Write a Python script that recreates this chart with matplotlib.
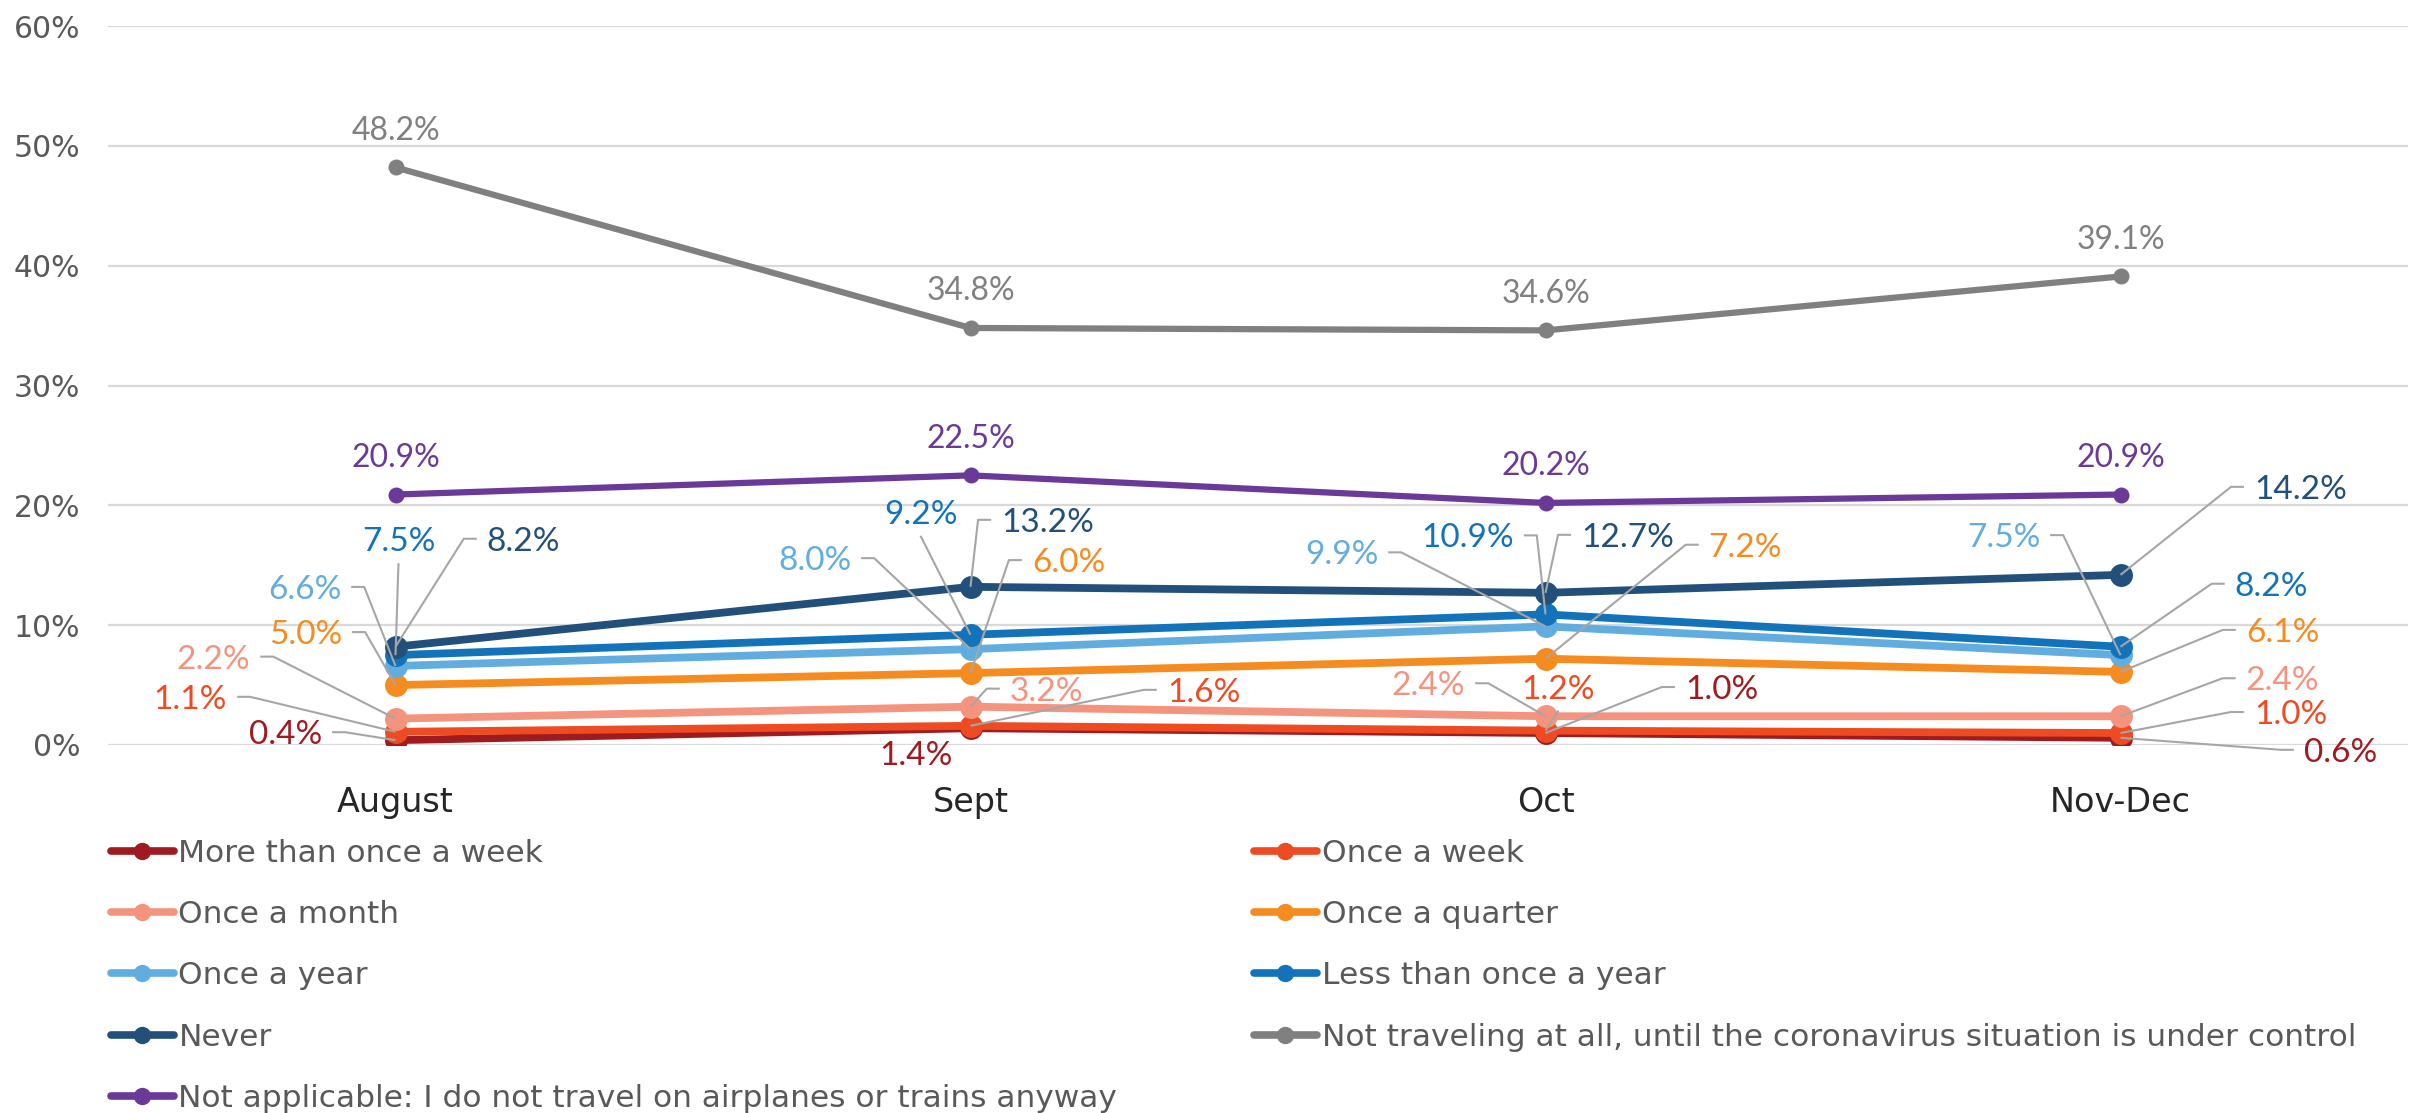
import matplotlib
matplotlib.use("Agg")
import matplotlib.pyplot as plt
from matplotlib.lines import Line2D

plt.rcParams["font.family"] = ["DejaVu Sans"]

months = ["August", "Sept", "Oct", "Nov-Dec"]

names = [
    "More than once a week",
    "Once a week",
    "Once a month",
    "Once a quarter",
    "Once a year",
    "Less than once a year",
    "Never",
    "Not traveling at all, until the coronavirus situation is under control",
    "Not applicable: I do not travel on airplanes or trains anyway",
]

more_than_weekly = [0.4, 1.4, 1.0, 0.6]
weekly = [1.1, 1.6, 1.2, 1.0]
monthly = [2.2, 3.2, 2.4, 2.4]
quarterly = [5.0, 6.0, 7.2, 6.1]
yearly = [6.6, 8.0, 9.9, 7.5]
less_than_yearly = [7.5, 9.2, 10.9, 8.2]
never = [8.2, 13.2, 12.7, 14.2]
not_traveling = [48.2, 34.8, 34.6, 39.1]
not_applicable = [20.9, 22.5, 20.2, 20.9]

values = [more_than_weekly, weekly, monthly, quarterly, yearly,
          less_than_yearly, never, not_traveling, not_applicable]

colors = ["#9E1B20", "#EE4B23", "#F4937E", "#F68B1F", "#62ADDF",
          "#1273BA", "#22507A", "#808080", "#6B3A98"]

# label placement: (dx, dy) in pixels from the point to the label centre
# (dy > 0 means below), and how the leader line attaches
label_pos = [
    [(-110, -8, "l"), (-55, 25, None), (176, -46, "r"), (220, 12, "r")],
    [(-205, -35, "l"), (233, -36, "r"), (13, -44, "b"), (170, -21, "r")],
    [(-182, -62, "l"), (76, -18, "r"), (-117, -33, "l"), (162, -38, "r")],
    [(-90, -53, "l"), (98, -113, "r"), (200, -114, "r"), (162, -42, "r")],
    [(-91, -79, "l"), (-156, -91, "l"), (-204, -74, "l"), (-117, -120, "l")],
    [(3, -116, "b"), (-50, -123, "b"), (-78, -79, "l"), (151, -63, "r")],
    [(128, -108, "r"), (77, -67, "r"), (82, -58, "r"), (180, -88, "r")],
    [(0, -39, None)] * 4,
    [(0, -39, None)] * 4,
]

W, H = 2412, 1113
fig = plt.figure(figsize=(W / 100, H / 100), dpi=100)
ax = fig.add_axes([108 / W, (H - 745) / H, 2300 / W, 719 / H])

x = list(range(len(months)))
for i, (name, vals, col) in enumerate(zip(names, values, colors)):
    big = i < 7
    ax.plot(x, vals, color=col, lw=5.6 if big else 4.5, marker="o",
            ms=16.5 if big else 11.5, mew=0, solid_capstyle="round",
            zorder=3 + i * 0.1)

ax.set_xlim(-0.5, 3.5)
ax.set_ylim(0, 60)
ax.set_yticks(range(0, 61, 10))
ax.set_yticklabels([f"{t}%" for t in range(0, 61, 10)])
ax.set_xticks(x)
ax.set_xticklabels(months)
ax.tick_params(axis="y", length=0, pad=20, labelsize=21.5, labelcolor="#595959")
ax.tick_params(axis="x", length=0, pad=29.5, labelsize=24, labelcolor="#262626")
ax.grid(axis="y", color="#D9D9D9", lw=1.6)
ax.set_axisbelow(True)
for s in ax.spines.values():
    s.set_visible(False)

# data labels
leaders = []
for i, (vals, col) in enumerate(zip(values, colors)):
    fs = 24 if i < 7 else 23
    base = 0.36 * fs * 100 / 72
    for j, v in enumerate(vals):
        dx, dy, mode = label_pos[i][j]
        ann = ax.annotate(f"{v:.1f}%", xy=(j, v), xytext=(dx, -dy - base),
                          textcoords="offset pixels", ha="center",
                          va="baseline", fontsize=fs, color=col, zorder=10,
                          family=["Lato", "DejaVu Sans"])
        if mode:
            leaders.append((ann, j, v, dx, dy, mode))

fig.canvas.draw()
renderer = fig.canvas.get_renderer()
inv = ax.transData.inverted()
for ann, j, v, dx, dy, mode in leaders:
    px, py = ax.transData.transform((j, v))
    cx, cy = px + dx, py - dy
    bb = ann.get_window_extent(renderer)
    if mode == "r":
        sx = bb.x0 - 10
        pts = [(sx, cy), (sx - 13, cy), (px, py)]
    elif mode == "l":
        sx = bb.x1 + 10
        pts = [(sx, cy), (sx + 13, cy), (px, py)]
    else:
        pts = [(cx, cy - 24), (px, py)]
    d = inv.transform(pts)
    ax.plot(d[:, 0], d[:, 1], color="#A6A6A6", lw=1.5, zorder=9,
            solid_capstyle="butt", clip_on=False)

# legend, filled row by row in two columns
handles = [Line2D([], [], color=c, lw=5.5, marker="o", ms=12.5, mew=0,
                  solid_capstyle="round") for c in colors]
left = [0, 2, 4, 6, 8]
right = [1, 3, 5, 7]
leg_kw = dict(loc="upper left", frameon=False, fontsize=22.5, labelcolor="#595959",
              handlelength=2.0, handletextpad=0.16, labelspacing=1.03,
              borderpad=0, borderaxespad=0)
fig.legend([handles[k] for k in left], [names[k] for k in left],
           bbox_to_anchor=(111 / W, 1 - 839 / H), **leg_kw)
fig.legend([handles[k] for k in right], [names[k] for k in right],
           bbox_to_anchor=(1254 / W, 1 - 839 / H), **leg_kw)

fig.savefig("out.png", dpi=100)
